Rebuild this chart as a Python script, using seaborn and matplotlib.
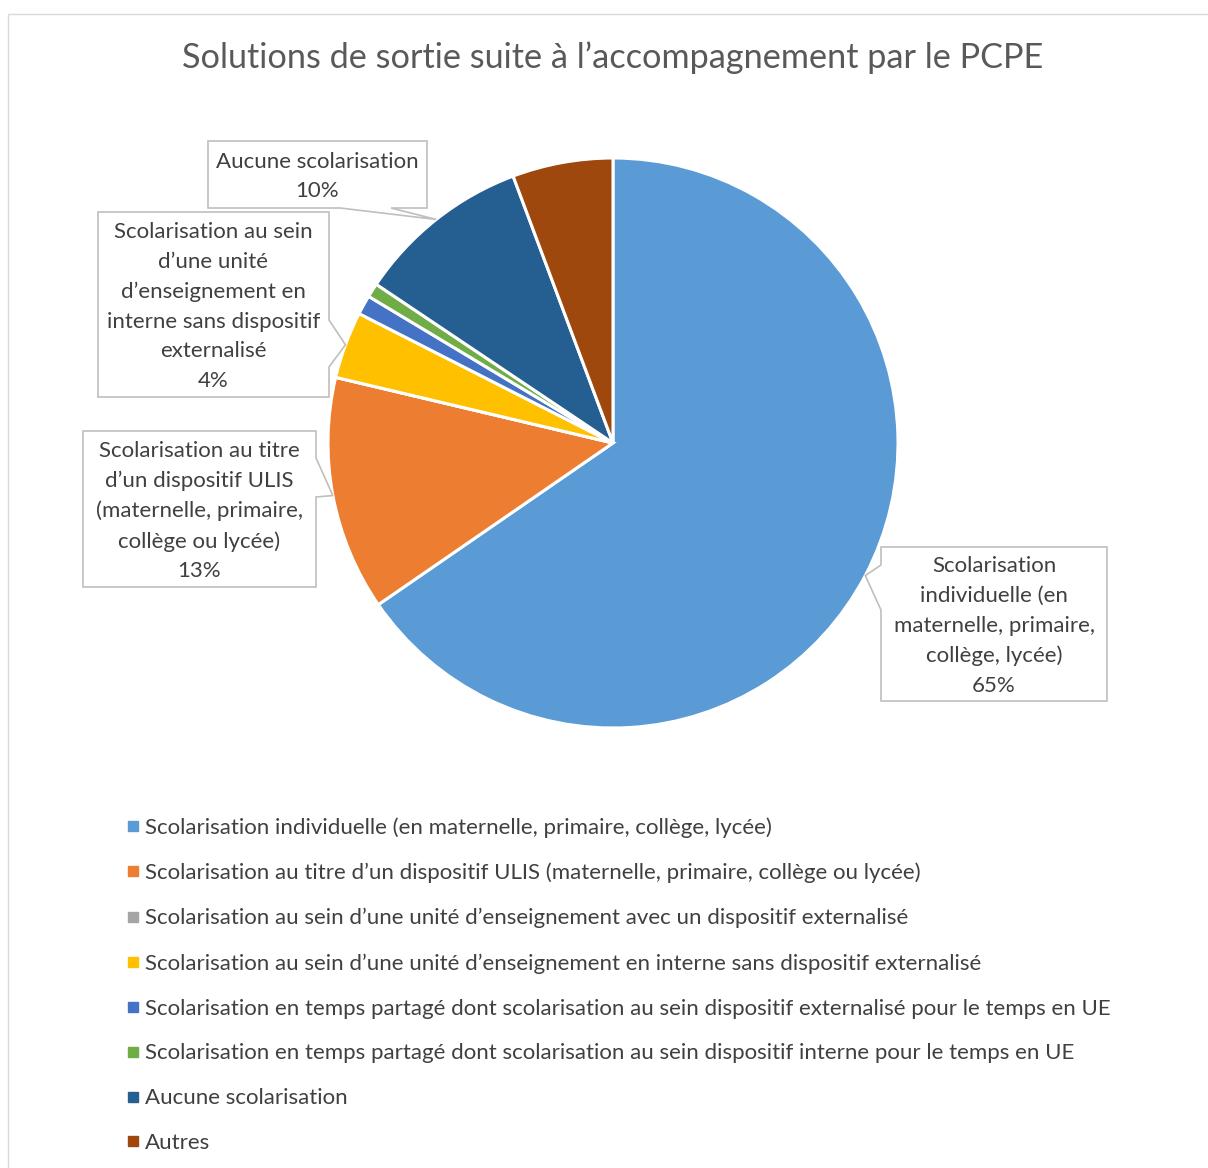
import matplotlib
matplotlib.use("Agg")
import matplotlib.pyplot as plt
import seaborn as sns
import numpy as np
from matplotlib.patches import Polygon, Rectangle
from matplotlib.lines import Line2D

# Data
categories = [
    "Scolarisation individuelle (en maternelle, primaire, collège, lycée)",
    "Scolarisation au titre d’un dispositif ULIS (maternelle, primaire, collège ou lycée)",
    "Scolarisation au sein d’une unité d’enseignement avec un dispositif externalisé",
    "Scolarisation au sein d’une unité d’enseignement en interne sans dispositif externalisé",
    "Scolarisation en temps partagé dont scolarisation au sein dispositif externalisé pour le temps en UE",
    "Scolarisation en temps partagé dont scolarisation au sein dispositif interne pour le temps en UE",
    "Aucune scolarisation",
    "Autres",
]
shares = [65.4, 13.3, 0.0, 3.8, 1.1, 0.8, 9.9, 5.7]
colors = ["#5B9BD5", "#ED7D31", "#A5A5A5", "#FFC000", "#4472C4", "#70AD47", "#255E91", "#9E480E"]
callout_names = {
    0: "Scolarisation\nindividuelle (en\nmaternelle, primaire,\ncollège, lycée)",
    1: "Scolarisation au titre\nd’un dispositif ULIS\n(maternelle, primaire,\ncollège ou lycée)",
    3: "Scolarisation au sein\nd’une unité\nd’enseignement en\ninterne sans dispositif\nexternalisé",
    6: "Aucune scolarisation",
}

sns.set_theme(style="white")
plt.rcParams["font.family"] = ["Lato", "DejaVu Sans"]
palette = sns.color_palette(colors)

W, H = 1208, 1168
fig = plt.figure(figsize=(W / 100, H / 100), dpi=100)

# chart frame
fig.patches.append(Rectangle((8 / W, -0.1), 1.2, 1 - 14 / H + 0.1, transform=fig.transFigure,
                             fill=False, edgecolor="#D9D9D9", lw=1))

fig.text(613 / W, 1 - 58 / H, "Solutions de sortie suite à l’accompagnement par le PCPE",
         ha="center", va="center", fontsize=24.7, color="#595959")

cx, cy, R = 613, 443, 285
ax = fig.add_axes([(cx - R) / W, (H - cy - R) / H, 2 * R / W, 2 * R / H])
wedges, _ = ax.pie(shares, colors=palette, startangle=90, counterclock=False, radius=1,
                   wedgeprops=dict(edgecolor="white", linewidth=2.2))
ax.set_xlim(-1, 1)
ax.set_ylim(-1, 1)
ax.set_axis_off()


def px(x, y):
    return (x - cx) / R, (cy - y) / R


# callout boxes: (left, top, right, bottom) in pixels, side of pointer, base along that side
boxes = {
    0: ((881, 547, 1107, 701), "left", (565, 610)),
    1: ((83, 431, 316, 587), "right", (458, 497)),
    3: ((98, 212, 329, 397), "right", (320, 367)),
    6: ((208, 141, 427, 208), "bottom", (340, 391)),
}

total = sum(shares)
for i, (rect, side, base) in boxes.items():
    w = wedges[i]
    mid = np.deg2rad((w.theta1 + w.theta2) / 2)
    tip = (np.cos(mid), np.sin(mid))
    l, t, r, b = rect
    if side == "left":
        pts = [(l, t), (r, t), (r, b), (l, b), (l, base[1]), None, (l, base[0])]
    elif side == "right":
        pts = [(l, t), (r, t), (r, base[0]), None, (r, base[1]), (r, b), (l, b)]
    else:
        pts = [(l, t), (r, t), (r, b), (base[1], b), None, (base[0], b), (l, b)]
    verts = [tip if p is None else px(*p) for p in pts]
    ax.add_patch(Polygon(verts, closed=True, facecolor="white", edgecolor="#BFBFBF",
                         lw=1.2, clip_on=False, zorder=3))
    label = f"{callout_names[i]}\n{round(shares[i] / total * 100):.0f}%"
    tx, ty = px((l + r) / 2, (t + b) / 2 + 2)
    ax.text(tx, ty, label, ha="center", va="center", multialignment="center",
            fontsize=16, color="#404040", linespacing=1.6, zorder=4, clip_on=False)

handles = [Line2D([], [], marker="s", linestyle="", markersize=7, color=c) for c in palette]
fig.legend(handles, categories, loc="upper left", bbox_to_anchor=(116 / W, 1 - 806 / H),
           frameon=False, fontsize=16, labelcolor="#404040", handlelength=0.5,
           handletextpad=0.3, labelspacing=1.12, borderpad=0)

fig.savefig("out.png", dpi=100, facecolor="white")
